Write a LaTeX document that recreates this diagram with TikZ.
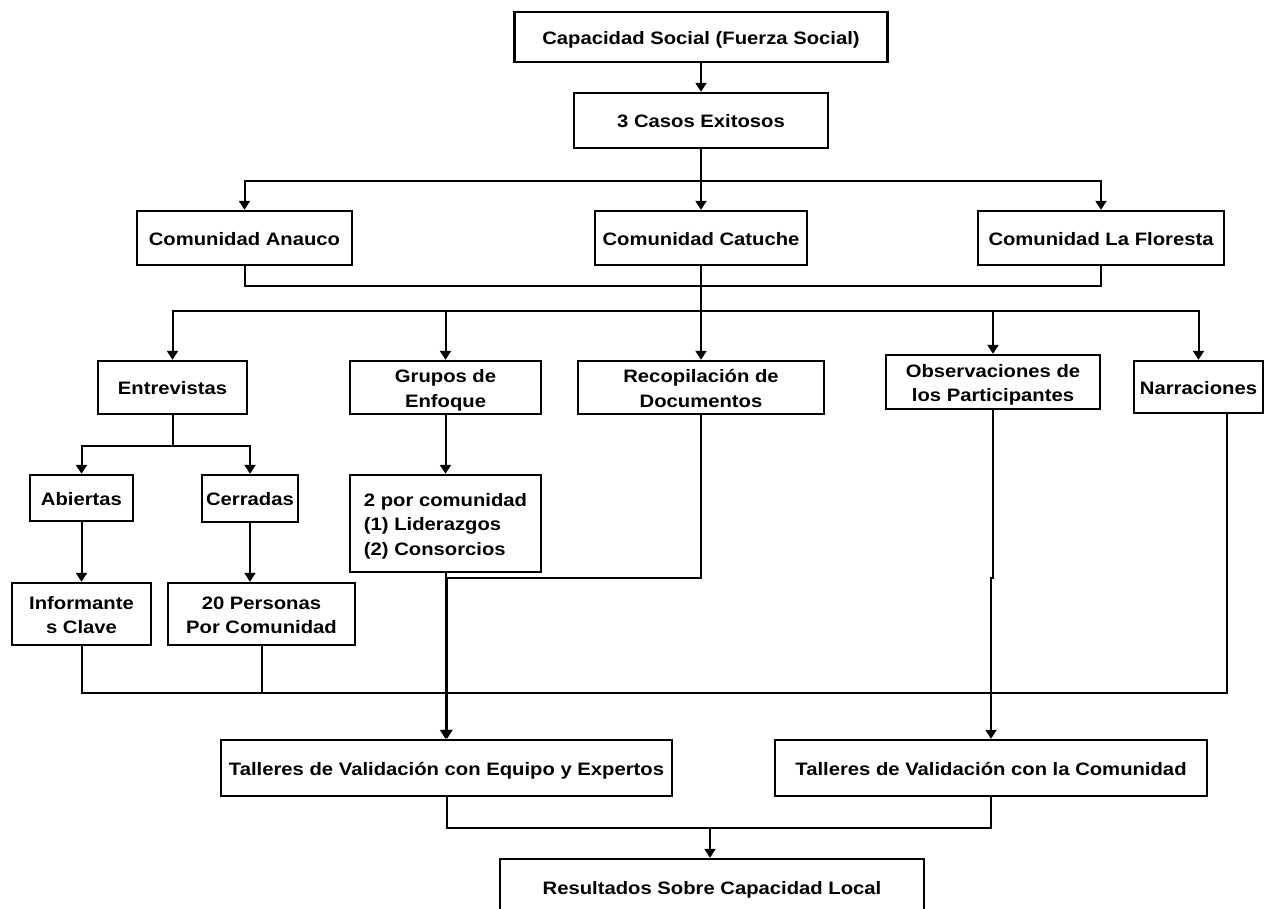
\documentclass[tikz,border=0pt]{standalone}
\usepackage{fontspec}
\setmainfont{Liberation Sans}
\usepackage{graphicx}
\usetikzlibrary{arrows.meta}
\newcommand{\tx}[1]{\raisebox{-2.5pt}[\height][\depth]{\scalebox{1.125}[1]{\begin{tabular}{@{}c@{}}#1\end{tabular}}}}
\newcommand{\txl}[1]{\raisebox{-2.5pt}[\height][\depth]{\scalebox{1.125}[1]{\begin{tabular}{@{}l@{}}#1\end{tabular}}}}
\begin{document}
\begin{tikzpicture}[x=1pt,y=-1pt,
  font=\bfseries\fontsize{18}{24.5}\selectfont,
  box/.style={draw, line width=2.4pt, inner sep=0pt, align=center},
  conn/.style={line width=2pt},
  arr/.style={line width=2pt, -{Triangle[width=11pt,length=9pt]}}]
\useasboundingbox (0,0) rectangle (1273,908);
\fill[white] (0,0) rectangle (1273,908);
% nodes
\node[box, minimum width=373pt, minimum height=50pt] (top) at (701,37) {\tx{Capacidad Social (Fuerza Social)}};
\node[box, minimum width=254pt, minimum height=55pt] (casos) at (701,120.5) {\tx{3 Casos Exitosos}};
\node[box, minimum width=215pt, minimum height=54pt] (anauco) at (244.5,238) {\tx{Comunidad Anauco}};
\node[box, minimum width=212pt, minimum height=54pt] (catuche) at (701,238) {\tx{Comunidad Catuche}};
\node[box, minimum width=246pt, minimum height=54pt] (floresta) at (1101,238) {\tx{Comunidad La Floresta}};
\node[box, minimum width=149pt, minimum height=53pt] (entre) at (172.5,387.5) {\tx{Entrevistas}};
\node[box, minimum width=191pt, minimum height=53pt] (grupos) at (445.5,387.5) {\tx{Grupos de\\Enfoque}};
\node[box, minimum width=246pt, minimum height=53pt] (recop) at (701,387.5) {\tx{Recopilación de\\Documentos}};
\node[box, minimum width=214pt, minimum height=54pt] (obs) at (993,382) {\tx{Observaciones de\\los Participantes}};
\node[box, minimum width=129pt, minimum height=52pt] (narr) at (1198.5,387) {\tx{Narraciones}};
\node[box, minimum width=103pt, minimum height=46pt] (abi) at (81.5,498) {\tx{Abiertas}};
\node[box, minimum width=96pt, minimum height=47pt] (cer) at (250,498.5) {\tx{Cerradas}};
\node[box, minimum width=191pt, minimum height=97pt] (dos) at (445.5,523.5) {\txl{2 por comunidad\\(1) Liderazgos\\(2) Consorcios}};
\node[box, minimum width=139pt, minimum height=62pt] (inf) at (81.5,614) {\tx{Informante\\s Clave}};
\node[box, minimum width=187pt, minimum height=62pt] (per) at (261.5,614) {\tx{20 Personas\\Por Comunidad}};
\node[box, minimum width=451pt, minimum height=56pt] (tal1) at (446.5,768) {\tx{Talleres de Validación con Equipo y Expertos}};
\node[box, minimum width=432pt, minimum height=56pt] (tal2) at (991,768) {\tx{Talleres de Validación con la Comunidad}};
\node[box, minimum width=424pt, minimum height=56pt] (res) at (712,887) {\tx{Resultados Sobre Capacidad Local}};
% coordinates
\coordinate (j1) at (701,181);
\coordinate (c2) at (701,286);
\coordinate (j3) at (701,311);
\coordinate (j4) at (172.5,446);
\coordinate (bl) at (81.5,693);
\coordinate (r1) at (447,578);
\coordinate (o1) at (991,578);
\coordinate (m) at (710,828);
% connectors
\draw[arr] (top.south) -- (casos.north);
\draw[conn] (casos.south) -- (j1);
\draw[arr] (j1) -| (anauco.north);
\draw[arr] (j1) -| (floresta.north);
\draw[arr] (j1) -- (catuche.north);
\draw[conn] (anauco.south) |- (c2) -| (floresta.south);
\draw[conn] (catuche.south) -- (j3);
\draw[arr] (j3) -| (entre.north);
\draw[arr] (j3) -| (grupos.north);
\draw[arr] (j3) -- (recop.north);
\draw[arr] (j3) -| (obs.north);
\draw[arr] (j3) -| (narr.north);
\draw[conn] (entre.south) -- (j4);
\draw[arr] (j4) -| (abi.north);
\draw[arr] (j4) -| (cer.north);
\draw[arr] (abi.south) -- (inf.north);
\draw[arr] (cer.south) -- (cer.south |- per.north);
\draw[arr] (grupos.south) -- (dos.north);
\draw[conn] (inf.south) -- (bl) -| ([xshift=28.5pt]narr.south);
\draw[conn] (per.south) -- (per.south |- bl);
\draw[arr] (dos.south) -- (dos.south |- tal1.north);
\draw[arr] (recop.south) |- (r1) -- (r1 |- tal1.north);
\draw[arr] (obs.south) -- (obs.south |- o1) -- (o1) -- (tal2.north);
\draw[conn] (tal1.south) |- (m) -| (tal2.south);
\draw[arr] (m) -- (m |- res.north);
\end{tikzpicture}
\end{document}
